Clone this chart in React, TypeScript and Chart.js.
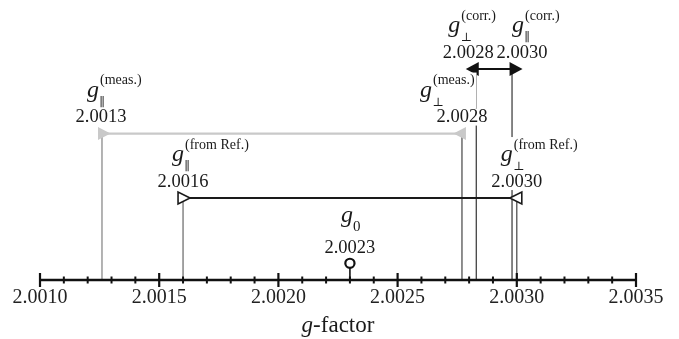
import React, { useEffect, useRef } from 'react';
import { Chart, registerables } from 'chart.js';

Chart.register(...registerables);

// ---- data ----
const axisMin = 2.001;
const axisMax = 2.0035;
const majorTicks = [2.001, 2.0015, 2.002, 2.0025, 2.003, 2.0035];
const tickLabels = ['2.0010', '2.0015', '2.0020', '2.0025', '2.0030', '2.0035'];
const minorTicks = [
  2.0011, 2.0012, 2.0013, 2.0014, 2.0016, 2.0017, 2.0018, 2.0019,
  2.0021, 2.0022, 2.0023, 2.0024, 2.0026, 2.0027, 2.0028, 2.0029,
  2.0031, 2.0032, 2.0033, 2.0034,
];

const gKeys = ['parMeas', 'parRef', 'perpMeas', 'perpRef', 'perpCorr', 'parCorr', 'g0'];
const gValues = [2.00126, 2.0016, 2.00277, 2.003, 2.00283, 2.00298, 2.0023];
const gValueLabels = ['2.0013', '2.0016', '2.0028', '2.0030', '2.0028', '2.0030', '2.0023'];
const gSubscripts = ['∥', '∥', '⊥', '⊥', '⊥', '∥', '0'];
const gSuperscripts = ['(meas.)', '(from Ref.)', '(meas.)', '(from Ref.)', '(corr.)', '(corr.)', ''];
const gLevels = [5.36, 3.0, 5.36, 3.0, 7.72, 7.72, 0.61];

const arrowFrom = [0, 1, 4];
const arrowTo = [2, 3, 5];

// ---- styles / layout ----
const lineColors = ['#808080', '#666666', '#444444', '#444444', '#333333', '#333333', '#111111'];
const arrowColors = ['#c9c9c9', '#1a1a1a', '#111111'];
const arrowHeadKinds = ['inFilled', 'inOpen', 'outFilled'];
const valueDx = [-1, 0, 0, 0, -8, 10, 0];
const gDx = [-8, -5, -36, -10, -14, -4, -3];
const rowDy = [0, 0, 0, 0, 0, 0, -4];

const SERIF = '"Liberation Serif", "Times New Roman", "DejaVu Serif", serif';
const SYM = '"DejaVu Serif", "DejaVu Sans", serif';
const INK = '#1a1a1a';

function tri(ctx: CanvasRenderingContext2D, tipX: number, baseX: number, y: number, half: number,
  fill: string, stroke?: string) {
  ctx.beginPath();
  ctx.moveTo(tipX, y);
  ctx.lineTo(baseX, y - half);
  ctx.lineTo(baseX, y + half);
  ctx.closePath();
  ctx.fillStyle = fill;
  ctx.fill();
  if (stroke) {
    ctx.lineWidth = 1.6;
    ctx.strokeStyle = stroke;
    ctx.lineJoin = 'miter';
    ctx.stroke();
  }
}

const overlayPlugin = {
  id: 'overlay',
  afterDatasetsDraw(chart: any) {
    const ctx: CanvasRenderingContext2D = chart.ctx;
    const xs = chart.scales.x;
    const ys = chart.scales.y;
    const area = chart.chartArea;
    ctx.save();

    // arrow heads
    arrowFrom.forEach((a, k) => {
      const b = arrowTo[k];
      const xa = xs.getPixelForValue(gValues[a]);
      const xb = xs.getPixelForValue(gValues[b]);
      const y = ys.getPixelForValue(gLevels[a]);
      const kind = arrowHeadKinds[k];
      const col = arrowColors[k];
      if (kind === 'outFilled') {
        tri(ctx, xa - 10.5, xa + 2.5, y, 7, col);
        tri(ctx, xb + 10.5, xb - 2.5, y, 7, col);
      } else if (kind === 'inFilled') {
        tri(ctx, xa + 8.5, xa - 4, y, 6.5, col);
        tri(ctx, xb - 8.5, xb + 4, y, 6.5, col);
      } else {
        tri(ctx, xa + 7, xa - 5, y, 6, '#ffffff', col);
        tri(ctx, xb - 7, xb + 5, y, 6, '#ffffff', col);
      }
    });

    // axis line and ticks
    const by = area.bottom;
    ctx.strokeStyle = '#111';
    ctx.lineWidth = 2.6;
    ctx.beginPath();
    ctx.moveTo(xs.getPixelForValue(axisMin) - 1, by);
    ctx.lineTo(xs.getPixelForValue(axisMax) + 1, by);
    ctx.stroke();
    ctx.lineWidth = 2;
    minorTicks.forEach((v) => {
      const x = xs.getPixelForValue(v);
      ctx.beginPath();
      ctx.moveTo(x, by - 3.5);
      ctx.lineTo(x, by + 3.5);
      ctx.stroke();
    });
    ctx.lineWidth = 2.2;
    majorTicks.forEach((v) => {
      const x = xs.getPixelForValue(v);
      ctx.beginPath();
      ctx.moveTo(x, by - 7);
      ctx.lineTo(x, by + 7);
      ctx.stroke();
    });

    // labels
    gKeys.forEach((_k, i) => {
      const X = xs.getPixelForValue(gValues[i]);
      const Y = ys.getPixelForValue(gLevels[i]);
      const vcx = X + valueDx[i];
      const vy = Y - 16 + (i === 6 ? 1 : 0);
      ctx.font = `18.5px ${SERIF}`;
      const vw = ctx.measureText(gValueLabels[i]).width;

      const gcx = vcx + gDx[i];
      const gBase = Y - 37 + rowDy[i];
      ctx.font = `italic 24px ${SERIF}`;
      const gw = ctx.measureText('g').width;
      const gLeft = gcx - gw / 2;
      const gRight = gLeft + gw;

      const isDigit = gSubscripts[i] === '0';
      const subFont = isDigit ? `15px ${SERIF}` : `12px ${SYM}`;
      ctx.font = subFont;
      const sw = ctx.measureText(gSubscripts[i]).width;
      const supFont = `14px ${SERIF}`;
      ctx.font = supFont;
      const pw = gSuperscripts[i] ? ctx.measureText(gSuperscripts[i]).width : 0;

      // white backgrounds
      ctx.fillStyle = '#ffffff';
      const r1Right = Math.max(gRight + 1 + pw, gRight + 1 + sw) + 1;
      const r1Top = gSuperscripts[i] ? Y - 61 + rowDy[i] : gBase - 12;
      const r1Bottom = Y - 25 + rowDy[i];
      ctx.fillRect(gLeft - 1, r1Top, r1Right - gLeft + 2, r1Bottom - r1Top);
      ctx.fillRect(vcx - vw / 2 - 1, Y - 25, vw + 2, 17);

      ctx.fillStyle = INK;
      // value
      ctx.font = `18.5px ${SERIF}`;
      ctx.textAlign = 'center';
      ctx.textBaseline = 'middle';
      ctx.fillText(gValueLabels[i], vcx, vy);
      // g
      ctx.textAlign = 'left';
      ctx.textBaseline = 'alphabetic';
      ctx.font = `italic 24px ${SERIF}`;
      ctx.fillText('g', gLeft, gBase);
      // subscript
      ctx.font = subFont;
      ctx.textBaseline = 'middle';
      const subY = isDigit ? gBase + 5 : Y - 31 + rowDy[i];
      ctx.fillText(gSubscripts[i], gRight + (isDigit ? 0 : 0.5), subY);
      // superscript
      if (gSuperscripts[i]) {
        ctx.font = supFont;
        ctx.fillText(gSuperscripts[i], gRight + 1, Y - 53 + rowDy[i]);
      }
    });

    // axis title: italic g + "-factor"
    ctx.textBaseline = 'alphabetic';
    ctx.textAlign = 'left';
    ctx.fillStyle = INK;
    ctx.font = `italic 23px ${SERIF}`;
    const w1 = ctx.measureText('g').width;
    ctx.font = `23px ${SERIF}`;
    const w2 = ctx.measureText('-factor').width;
    const cx = (area.left + area.right) / 2;
    const tx = cx - (w1 + w2) / 2;
    const ty = 332;
    ctx.font = `italic 23px ${SERIF}`;
    ctx.fillText('g', tx, ty);
    ctx.font = `23px ${SERIF}`;
    ctx.fillText('-factor', tx + w1, ty);

    ctx.restore();
  },
};

export default function App() {
  const ref = useRef<HTMLCanvasElement | null>(null);

  useEffect(() => {
    if (!ref.current) return;
    const datasets: any[] = [];

    // g0 marker (on top)
    datasets.push({
      data: [{ x: gValues[6], y: gLevels[6] }],
      showLine: false,
      pointRadius: 4.6,
      pointStyle: 'circle',
      pointBackgroundColor: '#ffffff',
      pointBorderColor: '#111111',
      pointBorderWidth: 2.2,
      order: 0,
    });

    // horizontal arrow shafts
    arrowFrom.forEach((a, k) => {
      const b = arrowTo[k];
      datasets.push({
        data: [
          { x: gValues[a], y: gLevels[a] },
          { x: gValues[b], y: gLevels[b] },
        ],
        showLine: true,
        borderColor: arrowColors[k],
        borderWidth: k === 0 ? 2.2 : 2,
        pointRadius: 0,
        order: 2,
      });
    });

    // vertical lines
    gValues.forEach((v, i) => {
      datasets.push({
        data: [
          { x: v, y: 0 },
          { x: v, y: gLevels[i] },
        ],
        showLine: true,
        borderColor: lineColors[i],
        borderWidth: i === 6 ? 1.6 : 1.2,
        pointRadius: 0,
        order: 3,
      });
    });

    const chart = new Chart(ref.current, {
      type: 'scatter',
      data: { datasets },
      options: {
        animation: false,
        responsive: false,
        events: [],
        layout: { padding: { left: 40, right: 43, top: 0, bottom: 23 } },
        plugins: { legend: { display: false }, tooltip: { enabled: false } },
        scales: {
          x: {
            type: 'linear',
            min: axisMin,
            max: axisMax,
            grid: { display: false, drawTicks: false },
            border: { display: false },
            afterBuildTicks: (s: any) => {
              s.ticks = majorTicks.map((v) => ({ value: v }));
            },
            ticks: {
              padding: 6,
              color: '#222222',
              autoSkip: false,
              maxRotation: 0,
              font: { family: SERIF, size: 20 },
              callback: (_v: any, i: number) => tickLabels[i],
            },
          },
          y: { type: 'linear', display: false, min: 0, max: 10 },
        },
      } as any,
      plugins: [overlayPlugin],
    });
    return () => chart.destroy();
  }, []);

  return (
    <div style={{ position: 'absolute', left: 0, top: 0, width: 679, height: 339, background: '#fff' }}>
      <canvas ref={ref} width={679} height={339} style={{ display: 'block' }} />
    </div>
  );
}
